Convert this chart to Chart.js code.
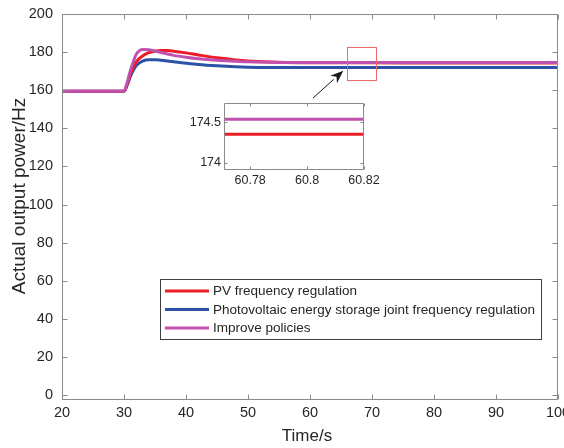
<!DOCTYPE html>
<html>
<head>
<meta charset="utf-8">
<script src="https://cdn.jsdelivr.net/npm/chart.js@4/dist/chart.umd.min.js"></script>
<style>
  html, body { margin: 0; padding: 0; background: #fff; }
  #wrap { position: relative; width: 564px; height: 448px; }
  #main { position: absolute; left: 0; top: 0; }
  #inset { position: absolute; left: 170px; top: 96px; }
</style>
</head>
<body>
<div id="wrap">
  <canvas id="main" width="564" height="448"></canvas>
  <canvas id="inset" width="224" height="100"></canvas>
</div>
<script>
// ---------- data ----------
const seriesLabels = ['PV frequency regulation', 'Photovoltaic energy storage joint frequency regulation', 'Improve policies'];
const xTitle = 'Time/s';
const yTitle = 'Actual output power/Hz';
const timeRed     = [20, 30, 30.5, 31, 31.5, 32, 33, 34, 35, 36, 37, 38, 40, 42, 45, 48, 50, 55, 60, 70, 80, 100];
const valuesRed   = [159.5, 159.5, 163, 168, 172, 175, 178, 179.7, 180.5, 180.8, 180.8, 180.5, 179.6, 178.5, 177, 175.9, 175.4, 174.7, 174.45, 174.36, 174.355, 174.355];
const timeBlue    = [20, 30, 30.5, 31, 31.5, 32, 33, 34, 35, 36, 38, 40, 42, 45, 48, 50, 55, 60, 70, 100];
const valuesBlue  = [159.5, 159.5, 162.5, 167, 170.5, 173, 175.3, 176, 176, 175.7, 175, 174.2, 173.5, 172.8, 172.3, 172.1, 171.95, 171.9, 171.9, 171.9];
const timeMag     = [20, 30, 30.5, 31, 31.5, 32, 32.5, 33, 34, 35, 36, 37, 38, 40, 42, 45, 48, 50, 55, 60, 70, 100];
const valuesMag   = [159.5, 159.5, 164, 170, 175, 179, 180.8, 181.4, 181.2, 180.6, 179.8, 179, 178.3, 177.3, 176.5, 175.7, 175.2, 174.9, 174.6, 174.55, 174.54, 174.54];
const xTicks = [20, 30, 40, 50, 60, 70, 80, 90, 100];
const yTicks = [0, 20, 40, 60, 80, 100, 120, 140, 160, 180, 200];

// inset (zoomed) data
const insetTime    = [60.7708, 60.82];
const insetRed     = [174.354, 174.354];
const insetMag     = [174.54, 174.54];
const insetXTicks  = [60.78, 60.80, 60.82];
const insetXLabels = ['60.78', '60.8', '60.82'];
const insetYTicks  = [174, 174.5];
const insetYLabels = ['174', '174.5'];

// annotation (data units)
const zoomBox = { x0: 65.92, x1: 70.53, y0: 165.6, y1: 182.85 };
const arrowFrom = { x: 60.48, y: 155.9 };
const arrowTo = { x: 65.37, y: 170.25 };

const colors = ['#EC1C26', '#2B52A6', '#C151AE'];
const FONT = '"Liberation Sans", Arial, Helvetica, sans-serif';
const TXT = '#262626';
const AXIS = '#8a8a8a';

function pts(xs, ys) { return xs.map((x, i) => ({ x: x, y: ys[i] })); }

const frameTicks = {
  id: 'frameTicks',
  afterDatasetsDraw(chart, args, opts) {
    const { ctx, chartArea: a, scales } = chart;
    const x = scales.x, y = scales.y;
    const len = opts.len || 5;
    ctx.save();
    ctx.strokeStyle = AXIS;
    ctx.lineWidth = 1;
    const L = Math.round(a.left) + 0.5, R = Math.round(a.right) - 0.5;
    const T = Math.round(a.top) + 0.5, B = Math.round(a.bottom) - 0.5;
    ctx.beginPath();
    ctx.rect(L, T, R - L, B - T);
    x.ticks.forEach(t => {
      const px = Math.round(x.getPixelForValue(t.value)) + 0.5;
      ctx.moveTo(px, B); ctx.lineTo(px, B - len);
      ctx.moveTo(px, T); ctx.lineTo(px, T + len);
    });
    y.ticks.forEach(t => {
      const py = Math.round(y.getPixelForValue(t.value)) + 0.5;
      ctx.moveTo(L, py); ctx.lineTo(L + len, py);
      ctx.moveTo(R, py); ctx.lineTo(R - len, py);
    });
    ctx.stroke();
    ctx.restore();
  }
};

const whiteArea = {
  id: 'whiteArea',
  beforeDraw(chart) {
    const { ctx, chartArea: a } = chart;
    ctx.save();
    ctx.fillStyle = '#fff';
    ctx.fillRect(a.left, a.top, a.right - a.left, a.bottom - a.top);
    ctx.restore();
  }
};

const axisTitles = {
  id: 'axisTitles',
  afterDraw(chart) {
    const { ctx } = chart;
    ctx.save();
    ctx.fillStyle = TXT;
    ctx.textAlign = 'center';
    ctx.textBaseline = 'middle';
    ctx.font = '17px ' + FONT;
    ctx.fillText(xTitle, 307, 436);
    ctx.translate(20, 196);
    ctx.rotate(-Math.PI / 2);
    ctx.font = '19px ' + FONT;
    ctx.fillText(yTitle, 0, 0);
    ctx.restore();
  }
};

const annotations = {
  id: 'annotations',
  afterDatasetsDraw(chart) {
    const { ctx, scales: { x, y } } = chart;
    ctx.save();
    const rx0 = x.getPixelForValue(zoomBox.x0), rx1 = x.getPixelForValue(zoomBox.x1);
    const ry0 = y.getPixelForValue(zoomBox.y1), ry1 = y.getPixelForValue(zoomBox.y0);
    ctx.strokeStyle = '#F06A6A';
    ctx.lineWidth = 1;
    ctx.strokeRect(Math.round(rx0) + 0.5, Math.round(ry0) + 0.5, Math.round(rx1 - rx0), Math.round(ry1 - ry0));
    const ax0 = x.getPixelForValue(arrowFrom.x), ay0 = y.getPixelForValue(arrowFrom.y);
    const ax1 = x.getPixelForValue(arrowTo.x), ay1 = y.getPixelForValue(arrowTo.y);
    const ang = Math.atan2(ay1 - ay0, ax1 - ax0);
    const hl = 13, hw = 5;
    const bx = ax1 - hl * Math.cos(ang), by = ay1 - hl * Math.sin(ang);
    ctx.strokeStyle = '#1a1a1a';
    ctx.fillStyle = '#1a1a1a';
    ctx.beginPath();
    ctx.moveTo(ax0, ay0); ctx.lineTo(bx, by);
    ctx.stroke();
    ctx.beginPath();
    ctx.moveTo(ax1, ay1);
    ctx.lineTo(bx + hw * Math.sin(ang), by - hw * Math.cos(ang));
    ctx.lineTo(ax1 - 0.7 * hl * Math.cos(ang), ay1 - 0.7 * hl * Math.sin(ang));
    ctx.lineTo(bx - hw * Math.sin(ang), by + hw * Math.cos(ang));
    ctx.closePath();
    ctx.fill();
    ctx.restore();
  }
};

const legendBox = {
  id: 'legendBox',
  afterDraw(chart) {
    const { ctx } = chart;
    const bx = 160.5, by = 279.5, bw = 381, bh = 60;
    ctx.save();
    ctx.fillStyle = '#fff';
    ctx.fillRect(bx, by, bw, bh);
    ctx.strokeStyle = '#404040';
    ctx.lineWidth = 1;
    ctx.strokeRect(bx, by, bw, bh);
    ctx.font = '13.5px ' + FONT;
    ctx.textBaseline = 'middle';
    const rows = [291, 309.5, 328];
    chart.data.datasets.forEach((ds, i) => {
      const ry = rows[i];
      ctx.strokeStyle = ds.borderColor;
      ctx.lineWidth = 3;
      ctx.beginPath();
      ctx.moveTo(165, ry); ctx.lineTo(209, ry);
      ctx.stroke();
      ctx.fillStyle = TXT;
      ctx.fillText(ds.label, 213, ry + 0.5);
    });
    ctx.restore();
  }
};

Chart.defaults.font.family = FONT;
Chart.defaults.color = TXT;

new Chart(document.getElementById('main'), {
  type: 'line',
  data: {
    datasets: [
      { label: seriesLabels[0], data: pts(timeRed, valuesRed), borderColor: colors[0], order: 1 },
      { label: seriesLabels[1], data: pts(timeBlue, valuesBlue), borderColor: colors[1], order: 2 },
      { label: seriesLabels[2], data: pts(timeMag, valuesMag), borderColor: colors[2], order: 0 }
    ]
  },
  options: {
    responsive: false,
    animation: false,
    devicePixelRatio: 1,
    layout: { padding: { top: 14, right: 6, left: 0, bottom: 0 } },
    elements: {
      line: { borderWidth: 3, cubicInterpolationMode: 'monotone', fill: false },
      point: { radius: 0 }
    },
    plugins: { legend: { display: false }, tooltip: { enabled: false }, frameTicks: { len: 5 } },
    scales: {
      x: {
        type: 'linear', min: 20, max: 100,
        afterBuildTicks: s => { s.ticks = xTicks.map(v => ({ value: v })); },
        afterFit: s => { s.height = 48; s.paddingLeft = 0; s.paddingRight = 0; },
        grid: { display: false, drawTicks: false },
        border: { display: false },
        ticks: { font: { size: 14.5 }, color: TXT, padding: 4, maxRotation: 0, autoSkip: false },
        title: { display: false }
      },
      y: {
        type: 'linear', min: -2.5, max: 200,
        afterBuildTicks: s => { s.ticks = yTicks.map(v => ({ value: v })); },
        afterFit: s => { s.width = 62; s.paddingTop = 0; s.paddingBottom = 0; },
        grid: { display: false, drawTicks: false },
        border: { display: false },
        ticks: { font: { size: 14.5 }, color: TXT, padding: 9, autoSkip: false },
        title: { display: false }
      }
    }
  },
  plugins: [frameTicks, annotations, legendBox, axisTitles]
});

new Chart(document.getElementById('inset'), {
  type: 'line',
  data: {
    datasets: [
      { label: seriesLabels[0], data: pts(insetTime, insetRed), borderColor: colors[0], order: 1 },
      { label: seriesLabels[2], data: pts(insetTime, insetMag), borderColor: colors[2], order: 0 }
    ]
  },
  options: {
    responsive: false,
    animation: false,
    devicePixelRatio: 1,
    layout: { padding: { top: 7, right: 30, left: 0, bottom: 0 } },
    elements: {
      line: { borderWidth: 3, fill: false },
      point: { radius: 0 }
    },
    plugins: { legend: { display: false }, tooltip: { enabled: false }, frameTicks: { len: 3 } },
    scales: {
      x: {
        type: 'linear', min: 60.7708, max: 60.82,
        afterBuildTicks: s => { s.ticks = insetXTicks.map(v => ({ value: v })); },
        afterFit: s => { s.height = 26; s.paddingLeft = 0; s.paddingRight = 0; },
        grid: { display: false, drawTicks: false },
        border: { display: false },
        ticks: { font: { size: 12.5 }, color: TXT, padding: 3, maxRotation: 0, autoSkip: false,
                 callback: (v, i) => insetXLabels[i] }
      },
      y: {
        type: 'linear', min: 173.91, max: 174.74,
        afterBuildTicks: s => { s.ticks = insetYTicks.map(v => ({ value: v })); },
        afterFit: s => { s.width = 54; s.paddingTop = 0; s.paddingBottom = 0; },
        grid: { display: false, drawTicks: false },
        border: { display: false },
        ticks: { font: { size: 12.5 }, color: TXT, padding: 3, autoSkip: false,
                 callback: (v, i) => insetYLabels[i] }
      }
    }
  },
  plugins: [whiteArea, frameTicks]
});
</script>
</body>
</html>
